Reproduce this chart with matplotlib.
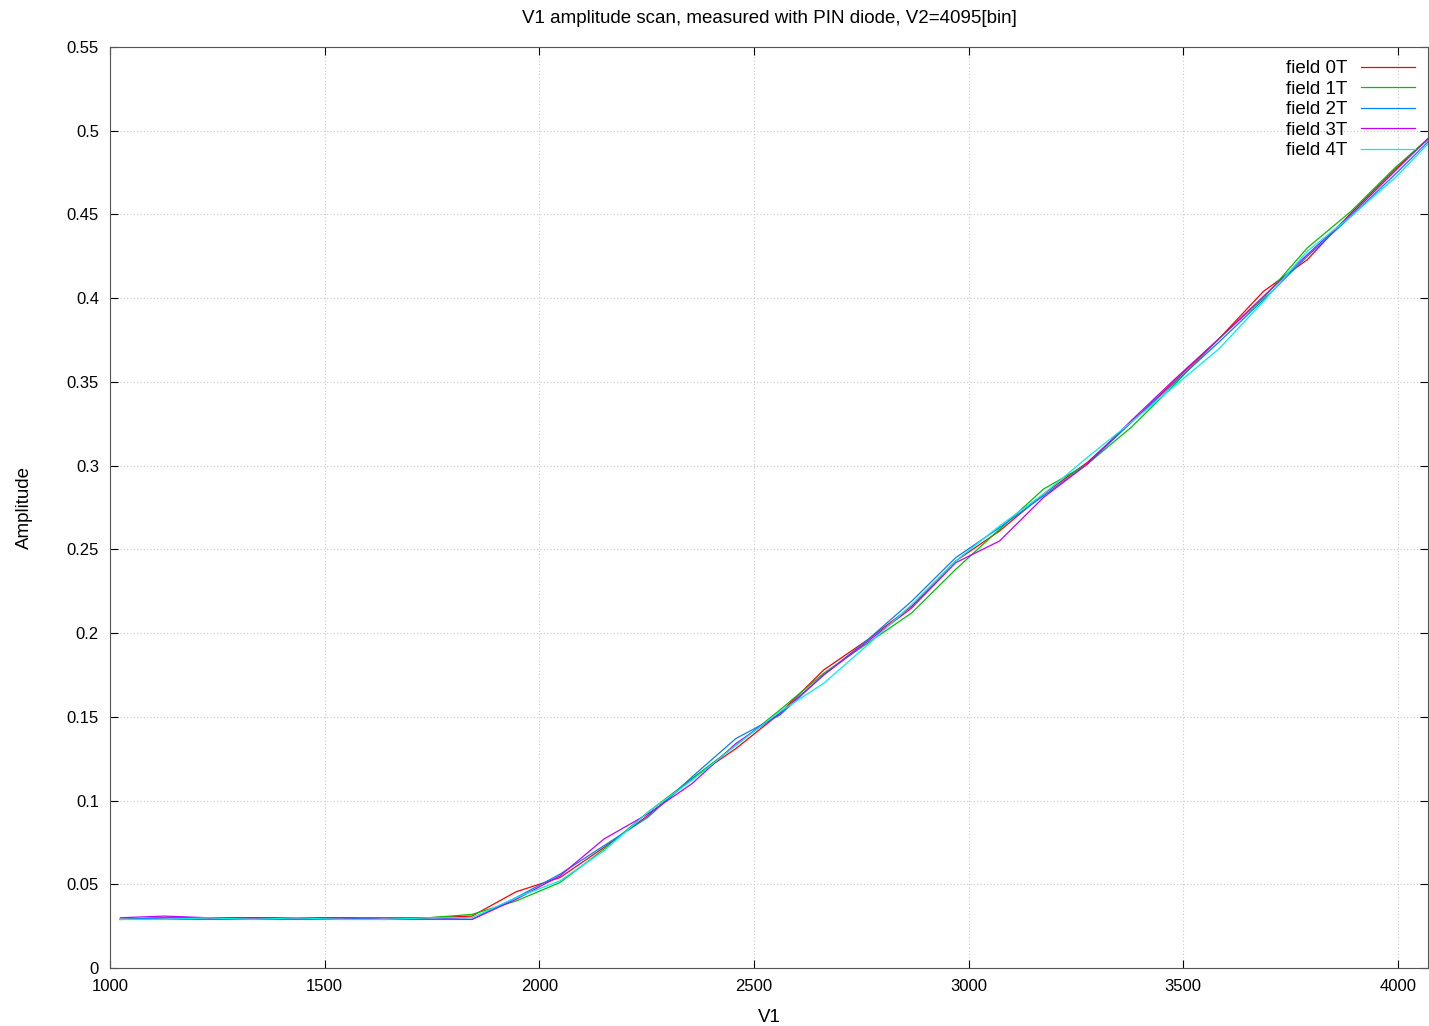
import numpy as np
import matplotlib
matplotlib.use("Agg")
import matplotlib.pyplot as plt

plt.rcParams['font.family'] = ['Liberation Sans', 'DejaVu Sans']

v1 = [1024.0, 1126.4, 1228.8, 1331.2, 1433.6, 1536.0, 1638.4, 1740.8, 1843.2,
      1945.6, 2048.0, 2150.4, 2252.8, 2355.2, 2457.6, 2560.0, 2662.4, 2764.8,
      2867.2, 2969.6, 3072.0, 3174.4, 3276.8, 3379.2, 3481.6, 3584.0, 3686.4,
      3788.8, 3891.2, 3993.6, 4096.0]

field_0T = [0.029, 0.030, 0.030, 0.030, 0.029, 0.030, 0.029, 0.030, 0.031,
            0.0455, 0.054, 0.072, 0.091, 0.113, 0.131, 0.152, 0.178, 0.196,
            0.216, 0.243, 0.261, 0.283, 0.302, 0.326, 0.351, 0.376, 0.404,
            0.423, 0.451, 0.477, 0.501]
field_1T = [0.029, 0.029, 0.029, 0.029, 0.029, 0.029, 0.029, 0.030, 0.032,
            0.040, 0.051, 0.071, 0.093, 0.113, 0.133, 0.154, 0.176, 0.194,
            0.212, 0.238, 0.262, 0.286, 0.301, 0.323, 0.349, 0.376, 0.400,
            0.430, 0.452, 0.478, 0.501]
field_2T = [0.029, 0.030, 0.030, 0.030, 0.030, 0.030, 0.029, 0.029, 0.029,
            0.042, 0.056, 0.073, 0.090, 0.114, 0.137, 0.151, 0.175, 0.196,
            0.219, 0.245, 0.263, 0.282, 0.301, 0.326, 0.350, 0.374, 0.399,
            0.425, 0.449, 0.474, 0.500]
field_3T = [0.030, 0.031, 0.030, 0.030, 0.030, 0.030, 0.030, 0.030, 0.029,
            0.041, 0.055, 0.077, 0.092, 0.110, 0.134, 0.152, 0.175, 0.195,
            0.215, 0.242, 0.255, 0.281, 0.301, 0.327, 0.352, 0.376, 0.401,
            0.426, 0.450, 0.476, 0.502]
field_4T = [0.029, 0.029, 0.030, 0.029, 0.030, 0.029, 0.029, 0.030, 0.030,
            0.042, 0.052, 0.070, 0.093, 0.112, 0.133, 0.153, 0.170, 0.193,
            0.217, 0.243, 0.264, 0.283, 0.305, 0.326, 0.348, 0.370, 0.398,
            0.428, 0.449, 0.472, 0.499]

series = [("field 0T", field_0T, "#ff0000"),
          ("field 1T", field_1T, "#00c000"),
          ("field 2T", field_2T, "#0080ff"),
          ("field 3T", field_3T, "#c000ff"),
          ("field 4T", field_4T, "#00eeee")]

xticks = [1000, 1500, 2000, 2500, 3000, 3500, 4000]
yticks = [0, 0.05, 0.1, 0.15, 0.2, 0.25, 0.3, 0.35, 0.4, 0.45, 0.5, 0.55]
yticklabels = ["0", "0.05", "0.1", "0.15", "0.2", "0.25", "0.3", "0.35",
               "0.4", "0.45", "0.5", "0.55"]

fig = plt.figure(figsize=(14.29, 10.26), dpi=100)
ax = fig.add_axes([110/1429, 1-968/1026, (1428-110)/1429, (968-47)/1026])

for name, vals, col in series:
    ax.plot(v1, vals, color=col, lw=0.9, label=name)

ax.set_xlim(1000, 4070)
ax.set_ylim(0, 0.55)
ax.set_xticks(xticks)
ax.set_yticks(yticks)
ax.set_yticklabels(yticklabels)
ax.tick_params(direction='in', top=True, right=True, labelsize=12, length=6,
               width=0.8, pad=8, colors='black')
ax.grid(True, color='#c8c8c8', linestyle=(0, (1, 2)), lw=0.8)
for s in ax.spines.values():
    s.set_linewidth(0.8)
    s.set_color('#555555')

ax.set_xlabel("V1", fontsize=13.5, labelpad=11)
ax.set_ylabel("Amplitude", fontsize=13.5, labelpad=24)
ax.set_title("V1 amplitude scan, measured with PIN diode, V2=4095[bin]",
             fontsize=13.5, pad=17)

leg = ax.legend(loc='upper right', frameon=False, markerfirst=False,
                fontsize=13.5, handlelength=2.9, labelspacing=0.18,
                borderaxespad=0.4, borderpad=0.3, handletextpad=0.7)

fig.savefig("out.png", dpi=100)
